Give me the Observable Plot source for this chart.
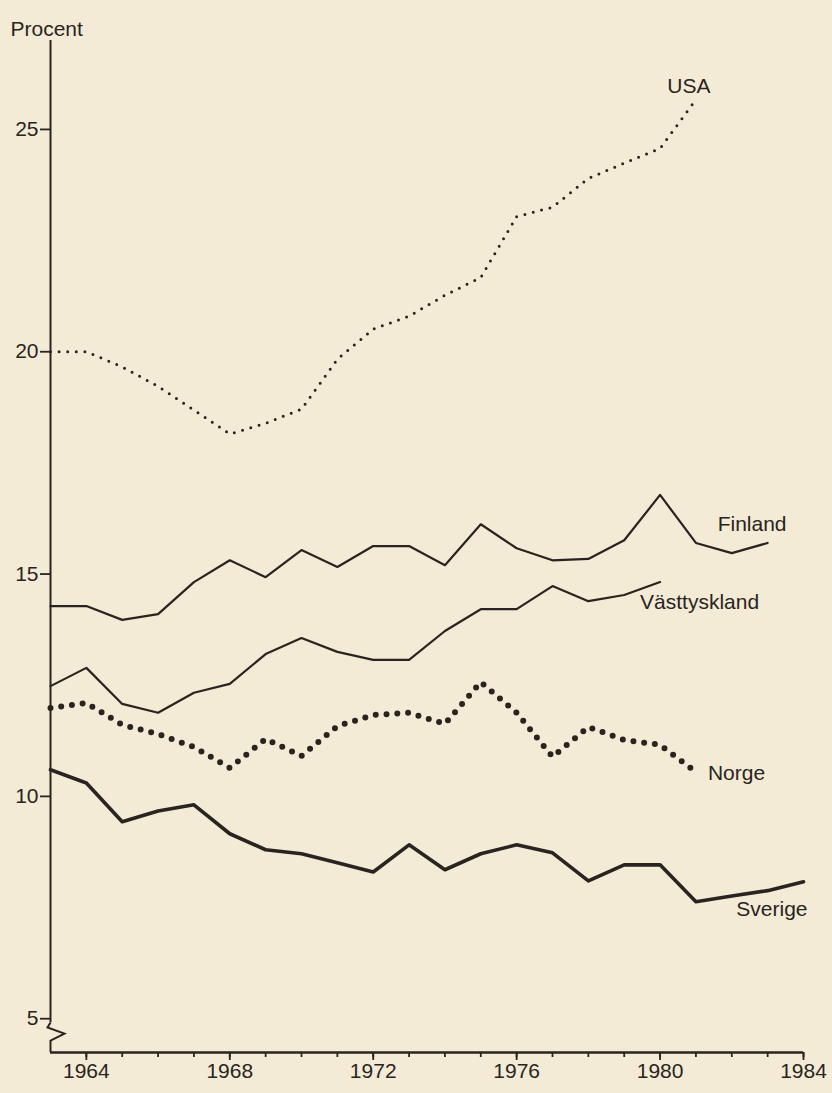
<!DOCTYPE html>
<html>
<head>
<meta charset="utf-8">
<script src="https://cdn.jsdelivr.net/npm/d3@7"></script>
<script src="https://cdn.jsdelivr.net/npm/@observablehq/plot@0.6"></script>
<style>
  html, body { margin: 0; padding: 0; background: #f3ebd6; }
  #chart svg { display: block; }
</style>
</head>
<body>
<div id="chart"></div>
<script>
// ---- Data (percent) ----
const usaYears = d3.range(1963, 1982);
const usaValues = [20.0, 20.0, 19.66, 19.22, 18.69, 18.15, 18.39, 18.71, 19.83, 20.51, 20.80, 21.27, 21.67, 23.04, 23.25, 23.90, 24.24, 24.57, 25.67];

const finlandYears = d3.range(1963, 1984);
const finlandValues = [14.28, 14.28, 13.97, 14.10, 14.82, 15.31, 14.93, 15.54, 15.16, 15.63, 15.63, 15.20, 16.12, 15.58, 15.31, 15.34, 15.76, 16.78, 15.70, 15.47, 15.70];

const vasttysklandYears = d3.range(1963, 1981);
const vasttysklandValues = [12.48, 12.89, 12.08, 11.88, 12.33, 12.53, 13.20, 13.56, 13.25, 13.07, 13.07, 13.72, 14.21, 14.21, 14.73, 14.39, 14.53, 14.82];

const norgeYears = d3.range(1963, 1982);
const norgeValues = [11.99, 12.10, 11.61, 11.40, 11.11, 10.64, 11.29, 10.91, 11.58, 11.83, 11.88, 11.63, 12.57, 11.88, 10.89, 11.56, 11.27, 11.16, 10.55];

const sverigeYears = d3.range(1963, 1985);
const sverigeValues = [10.60, 10.30, 9.43, 9.67, 9.81, 9.16, 8.80, 8.71, 8.51, 8.30, 8.91, 8.35, 8.71, 8.91, 8.73, 8.10, 8.46, 8.46, 7.63, 7.76, 7.88, 8.08];

const seriesNames = ["USA", "Finland", "Västtyskland", "Norge", "Sverige"];
const yTicks = [5, 10, 15, 20, 25];
const xLabelTicks = [1964, 1968, 1972, 1976, 1980, 1984];
const xMinorTicks = d3.range(1964, 1985);
const yAxisTitle = "Procent";

// ---- Styles ----
const ink = "#2a2420";
const paper = "#f3ebd6";
const font = "'Liberation Sans', Arial, Helvetica, sans-serif";

const seriesDefs = [
  {name: seriesNames[0], years: usaYears, values: usaValues,
   line: {strokeWidth: 3, strokeDasharray: "0 8.6", strokeLinecap: "round"},
   label: {dx: -7, dy: -13, textAnchor: "middle"}},
  {name: seriesNames[1], years: finlandYears, values: finlandValues,
   line: {strokeWidth: 2.2},
   label: {dx: -50, dy: -19, textAnchor: "start"}},
  {name: seriesNames[2], years: vasttysklandYears, values: vasttysklandValues,
   line: {strokeWidth: 2.2},
   label: {dx: -20, dy: 20, textAnchor: "start"}},
  {name: seriesNames[3], years: norgeYears, values: norgeValues,
   line: {strokeWidth: 6, strokeDasharray: "0 10.8", strokeLinecap: "round"},
   label: {dx: 12, dy: 1, textAnchor: "start"}},
  {name: seriesNames[4], years: sverigeYears, values: sverigeValues,
   line: {strokeWidth: 3.6},
   label: {dx: 4, dy: 28, textAnchor: "end"}}
];

const X0 = 1963, X1 = 1984, Y0 = 4.24, Y1 = 27;

// axis break (zigzag) as a custom symbol
const zigzag = {
  draw(ctx, size) {
    const r = Math.sqrt(size / Math.PI);
    ctx.moveTo(0, -r);
    ctx.lineTo(-0.33 * r, -0.45 * r);
    ctx.lineTo(1.55 * r, 0.22 * r);
    ctx.lineTo(0, r);
  }
};

const marks = [];

// y axis with break
marks.push(Plot.ruleX([X0], {y1: 4.91, y2: Y1, stroke: ink, strokeWidth: 2}));
marks.push(Plot.ruleX([X0], {y1: Y0, y2: 4.51, stroke: ink, strokeWidth: 2}));
marks.push(Plot.dot([X0], {x: d => d, y: () => 4.71, r: 9, symbol: zigzag, fill: "none", stroke: ink, strokeWidth: 2}));
// x axis line
marks.push(Plot.ruleY([Y0], {x1: X0, x2: X1, stroke: ink, strokeWidth: 2.4}));

// ticks
marks.push(Plot.axisY({ticks: yTicks, tickSize: 10, tickPadding: 2, label: null, stroke: ink, fill: ink, strokeWidth: 1.8, fontSize: 21, tickFormat: d => String(d)}));
marks.push(Plot.axisX({ticks: xMinorTicks, tickSize: 5, label: null, stroke: ink, strokeWidth: 1.8, tickFormat: () => ""}));
marks.push(Plot.axisX({ticks: xLabelTicks, tickSize: 8, tickPadding: 3, label: null, stroke: ink, fill: ink, strokeWidth: 1.8, fontSize: 21, tickFormat: d => String(d)}));

// lines + labels
for (const s of seriesDefs) {
  const rows = s.years.map((yr, i) => ({year: yr, value: s.values[i]}));
  marks.push(Plot.line(rows, {x: "year", y: "value", stroke: ink, strokeLinejoin: "round", ...s.line}));
  const last = rows[rows.length - 1];
  marks.push(Plot.text([last], {x: "year", y: "value", text: () => s.name, fill: ink, fontSize: 21, ...s.label}));
}

// y axis title
marks.push(Plot.text([yAxisTitle], {text: d => d, frameAnchor: "top-left", dx: -40, dy: -19.5, textAnchor: "start", fill: ink, fontSize: 21}));

const chart = Plot.plot({
  width: 832,
  height: 1093,
  marginLeft: 50,
  marginRight: 29,
  marginTop: 40,
  marginBottom: 41,
  x: {domain: [X0, X1], axis: null},
  y: {domain: [Y0, Y1], axis: null},
  style: {background: paper, color: ink, fontFamily: font, fontSize: "21px"},
  marks
});

document.getElementById("chart").appendChild(chart);
</script>
</body>
</html>
